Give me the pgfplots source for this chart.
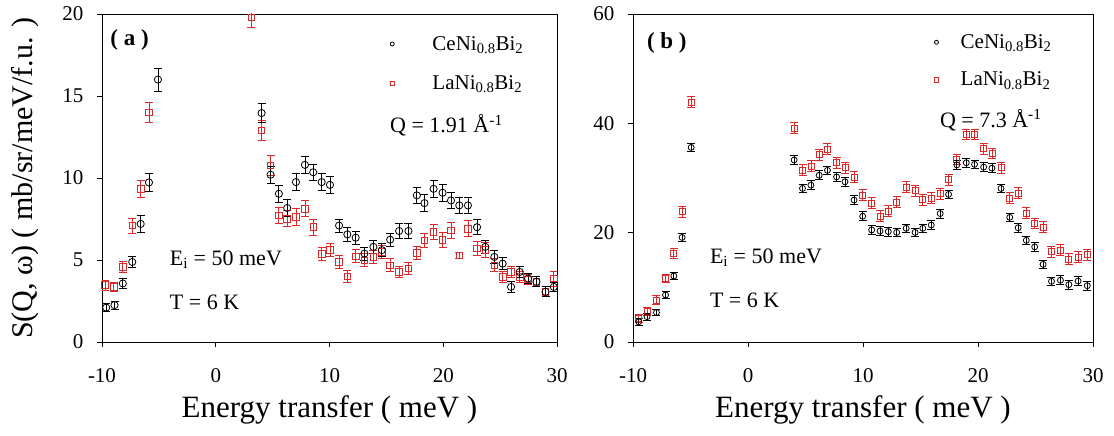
\documentclass[border=0pt]{standalone}
\usepackage{pgfplots}
\pgfplotsset{compat=1.18}
\usepackage{pgfplotstable}
\usepackage{fontspec}
\setmainfont{Liberation Serif}
\definecolor{myred}{RGB}{220,40,40}

\pgfplotstableread{
E S err
-9.63 2.10 0.25
-8.90 2.25 0.25
-8.17 3.57 0.3
-7.34 4.88 0.35
-6.60 7.20 0.5
-5.87 9.73 0.55
-5.08 16.00 0.7
4.03 13.96 0.6
4.82 10.20 0.5
5.55 9.04 0.5
6.28 8.17 0.5
7.05 9.75 0.5
7.84 10.80 0.5
8.57 10.35 0.5
9.31 9.75 0.5
10.04 9.58 0.5
10.84 7.10 0.4
11.57 6.56 0.4
12.30 6.36 0.4
13.07 5.39 0.4
13.86 5.80 0.4
14.60 5.60 0.4
15.33 6.24 0.4
16.12 6.77 0.45
16.94 6.77 0.45
17.68 8.94 0.5
18.35 8.47 0.5
19.15 9.34 0.5
19.94 9.10 0.5
20.68 8.63 0.5
21.41 8.33 0.5
22.17 8.33 0.5
22.97 7.00 0.45
23.70 5.80 0.4
24.49 5.19 0.4
25.22 4.78 0.35
25.96 3.36 0.35
26.72 4.27 0.35
27.46 3.87 0.3
28.19 3.67 0.3
28.99 3.06 0.3
29.72 3.36 0.3
}\ceA

\pgfplotstableread{
E S err
-9.72 3.47 0.3
-8.96 3.36 0.3
-8.17 4.58 0.35
-7.34 7.10 0.45
-6.60 9.34 0.5
-5.87 14.00 0.6
3.14 19.80 0.6
4.03 12.90 0.6
4.82 10.76 0.6
5.55 7.72 0.5
6.28 7.52 0.5
7.05 7.62 0.5
7.84 8.13 0.5
8.57 7.00 0.5
9.31 5.39 0.4
10.04 5.60 0.4
10.84 4.88 0.4
11.57 4.01 0.35
12.30 5.23 0.4
13.07 4.98 0.4
13.86 5.19 0.4
14.60 5.49 0.4
15.33 4.68 0.4
16.12 4.27 0.35
16.94 4.48 0.35
17.68 5.43 0.4
18.35 6.20 0.45
19.15 6.70 0.45
19.94 6.24 0.45
20.68 6.81 0.5
21.41 5.29 0.2
22.17 6.91 0.5
22.97 5.70 0.45
23.70 5.60 0.45
24.49 4.68 0.4
25.22 3.97 0.35
25.96 4.27 0.35
26.72 3.97 0.35
27.46 3.81 0.3
28.19 3.67 0.3
28.99 3.06 0.3
29.72 3.87 0.45
}\laA

\pgfplotstableread{
E S err
-9.50 3.70 0.6
-8.78 4.63 0.6
-7.96 5.40 0.6
-7.17 8.60 0.7
-6.45 12.07 0.7
-5.73 19.13 0.8
-4.94 35.60 0.8
4.01 33.30 0.8
4.74 28.10 0.8
5.47 28.70 0.8
6.19 30.50 0.8
6.91 31.40 0.8
7.70 30.20 0.8
8.43 29.30 0.8
9.22 25.96 0.8
9.97 23.00 0.8
10.75 20.50 0.8
11.48 20.30 0.8
12.20 20.20 0.8
12.93 20.05 0.8
13.75 20.80 0.8
14.53 20.05 0.8
15.20 20.80 0.8
15.93 21.40 0.8
16.71 23.50 0.8
17.44 27.00 0.8
18.16 32.40 0.8
18.98 32.80 0.8
19.70 32.50 0.8
20.49 32.00 0.8
21.21 31.80 0.8
22.00 28.10 0.8
22.76 22.80 0.8
23.49 20.90 0.8
24.20 18.60 0.8
24.93 17.40 0.8
25.66 14.20 0.8
26.39 11.10 0.8
27.17 11.30 0.8
27.90 10.50 0.8
28.70 11.15 0.8
29.50 10.30 0.8
}\ceB

\pgfplotstableread{
E S err
-9.50 4.33 0.7
-8.78 5.54 0.7
-7.96 7.68 0.8
-7.17 11.64 0.8
-6.45 16.20 0.9
-5.73 23.80 1.0
-4.94 43.90 1.0
4.01 39.10 1.0
4.74 31.40 1.0
5.47 32.20 1.0
6.19 34.30 1.0
6.91 35.30 1.0
7.70 32.80 1.0
8.43 31.90 1.0
9.22 30.20 1.0
9.97 26.90 1.0
10.75 25.40 1.0
11.48 23.00 1.0
12.20 23.90 1.0
12.93 25.60 1.0
13.75 28.30 1.0
14.53 27.70 1.0
15.20 26.00 1.0
15.93 26.30 1.0
16.71 27.10 1.0
17.44 29.70 1.0
18.16 33.40 1.0
18.98 37.97 1.0
19.70 37.97 1.0
20.49 35.40 1.0
21.21 34.50 1.0
22.00 31.90 1.0
22.76 26.30 1.0
23.49 27.20 1.0
24.20 23.60 1.0
24.93 21.70 1.0
25.66 21.00 1.0
26.39 16.50 1.0
27.17 16.80 1.0
27.90 15.20 1.0
28.70 15.50 1.0
29.50 16.00 1.0
}\laB

\pgfplotsset{
 panel/.style={
  scale only axis, height=328pt,
  xmin=-10, xmax=30, xtick={-10,0,10,20,30},
  tick align=outside, xtick pos=left, ytick pos=left,
  major tick length=5pt,
  ticklabel style={font=\fontsize{21}{24}\selectfont},
  /pgf/number format/assume math mode=true,
  xticklabel style={yshift=-18pt},
  yticklabel style={xshift=-10pt},
  label style={font=\fontsize{31}{35}\selectfont},
  xlabel={Energy transfer ( meV )},
  xlabel style={at={(axis description cs:0.5,-0.207)}, anchor=center},
  axis line style={line width=0.8pt},
  every tick/.style={black, line width=0.8pt},
  legend style={draw=none, fill=none, font=\fontsize{21}{24}\selectfont},
  legend cell align=left,
 },
 ser/.style={only marks, line width=0.8pt,
   error bars/y dir=both, error bars/y explicit,
   error bars/error bar style={line width=0.8pt},
   error bars/error mark options={rotate=90, mark size=4pt, line width=0.8pt}},
}
\tikzset{txt/.style={font=\fontsize{22}{26}\selectfont, anchor=west, inner sep=0pt}}

\begin{document}
\begin{tikzpicture}
\useasboundingbox (0,0) rectangle (1114pt,436pt);

% ---------------- panel (a)
\begin{axis}[panel, at={(102pt,94pt)}, anchor=south west, width=455pt,
  ymin=0, ymax=20, ytick={0,5,10,15,20},
  ylabel={S(Q, ω) ( mb/sr/meV/f.u. )},
  ylabel style={at={(axis description cs:-0.168,0.5)}, anchor=center, font=\fontsize{30}{34}\selectfont},
  legend style={at={(axis description cs:0.626,0.945)}, anchor=north west, row sep=20pt},
]
\addlegendimage{only marks, mark=o, mark size=2pt, black, line width=0.8pt}
\addlegendentry{\hspace{36pt}CeNi\textsubscript{0.8}Bi\textsubscript{2}}
\addlegendimage{only marks, mark=square, mark size=2.2pt, myred, line width=0.8pt}
\addlegendentry{\hspace{36pt}LaNi\textsubscript{0.8}Bi\textsubscript{2}}
\addplot[ser, myred, mark=square, mark size=3.3pt, forget plot] table[x=E, y=S, y error=err] {\laA};
\addplot[ser, black, mark=o, mark size=3.6pt, forget plot] table[x=E, y=S, y error=err] {\ceA};
\node[txt, font=\fontsize{23}{26}\selectfont\bfseries] at (axis description cs:0.018,0.92) {( a )};
\node[txt] at (axis description cs:0.149,0.25) {E\textsubscript{i} = 50 meV};
\node[txt] at (axis description cs:0.149,0.122) {T = 6 K};
\node[txt] at (axis description cs:0.633,0.66) {Q = 1.91 Å\textsuperscript{-1}};
\end{axis}

% ---------------- panel (b)
\begin{axis}[panel, at={(633pt,94pt)}, anchor=south west, width=460pt,
  ymin=0, ymax=60, ytick={0,20,40,60},
  legend style={at={(axis description cs:0.648,0.95)}, anchor=north west, row sep=18pt},
]
\addlegendimage{only marks, mark=o, mark size=2pt, black, line width=0.8pt}
\addlegendentry{\hspace{20pt}CeNi\textsubscript{0.8}Bi\textsubscript{2}}
\addlegendimage{only marks, mark=square, mark size=2.2pt, myred, line width=0.8pt}
\addlegendentry{\hspace{20pt}LaNi\textsubscript{0.8}Bi\textsubscript{2}}
\addplot[ser, myred, mark=square, mark size=3pt, forget plot] table[x=E, y=S, y error=err] {\laB};
\addplot[ser, black, mark=o, mark size=3pt, forget plot] table[x=E, y=S, y error=err] {\ceB};
\node[txt, font=\fontsize{23}{26}\selectfont\bfseries] at (axis description cs:0.03,0.912) {( b )};
\node[txt] at (axis description cs:0.167,0.256) {E\textsubscript{i} = 50 meV};
\node[txt] at (axis description cs:0.167,0.128) {T = 6 K};
\node[txt] at (axis description cs:0.667,0.677) {Q = 7.3 Å\textsuperscript{-1}};
\end{axis}
\end{tikzpicture}
\end{document}
